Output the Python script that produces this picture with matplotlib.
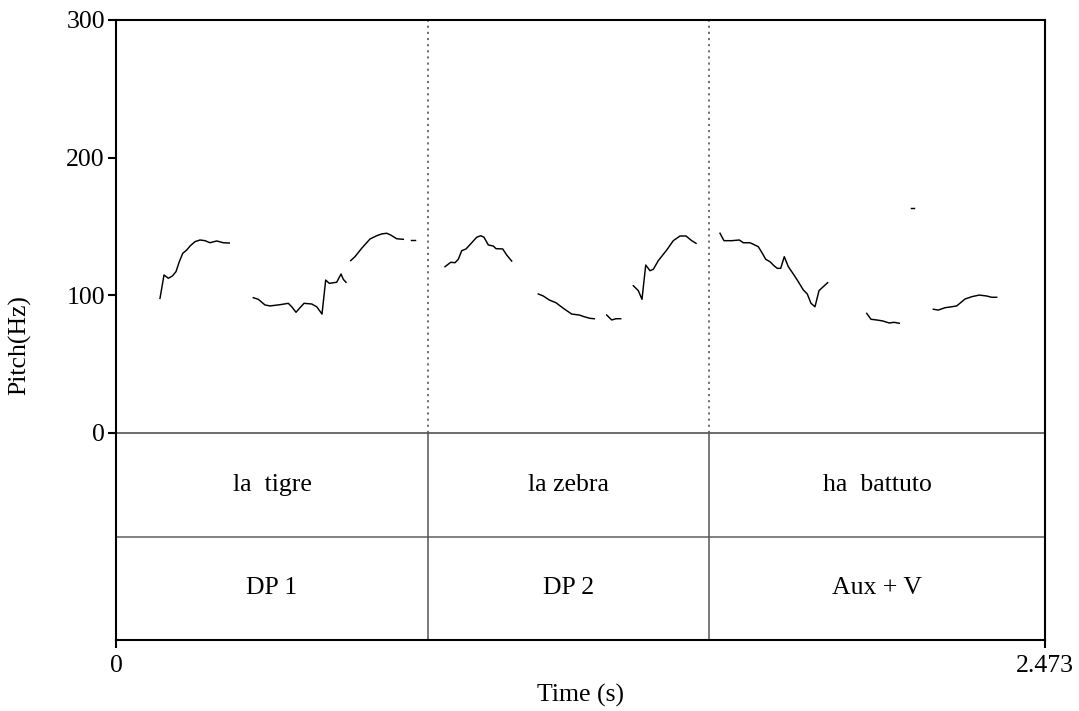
import matplotlib
matplotlib.use("Agg")
import matplotlib.pyplot as plt

plt.rcParams['font.family'] = ['Liberation Serif', 'DejaVu Serif']

# ---- data ----
total_time = 2.473
boundaries = [0.8306, 1.5786]
tier1_labels = ["la  tigre", "la zebra", "ha  battuto"]
tier2_labels = ["DP 1", "DP 2", "Aux + V"]
y_ticks = [0, 100, 200, 300]

seg1_t = [0.1171, 0.1278, 0.1392, 0.1499, 0.1597, 0.1685, 0.1776, 0.1882, 0.1970, 0.2103, 0.2236, 0.2369, 0.2502, 0.2681, 0.2856, 0.3016]
seg1_f = [97.8, 114.8, 112.4, 114.0, 117.2, 124.4, 130.5, 132.9, 135.8, 139.0, 140.2, 139.7, 138.2, 139.5, 138.2, 138.0]

seg2_t = [0.3655, 0.3788, 0.3966, 0.4099, 0.4366, 0.4587, 0.4677, 0.4792, 0.4898, 0.5005, 0.5210, 0.5343, 0.5484, 0.5582, 0.5678, 0.5875, 0.5990, 0.6051, 0.6123]
seg2_f = [98.3, 97.1, 93.0, 92.3, 93.2, 94.2, 91.7, 87.7, 91.0, 94.2, 93.7, 91.7, 86.4, 111.1, 108.7, 109.5, 115.5, 111.6, 109.5]

seg3_t = [0.6248, 0.6362, 0.6541, 0.6761, 0.6940, 0.7073, 0.7206, 0.7313, 0.7472, 0.7648]
seg3_f = [125.2, 128.1, 134.2, 140.9, 143.3, 144.6, 145.1, 143.8, 141.1, 140.7]

seg4_t = [0.7845, 0.7959]
seg4_f = [140.2, 140.2]

segA_t = [0.8758, 0.8910, 0.9024, 0.9112, 0.9203, 0.9317, 0.9469, 0.9602, 0.9708, 0.9796, 0.9911, 1.0044, 1.0116, 1.0294, 1.0400, 1.0533]
segA_f = [120.8, 124.0, 123.7, 126.2, 132.4, 133.7, 138.2, 142.2, 143.3, 142.2, 136.6, 135.8, 133.9, 133.7, 129.3, 124.9]

segB_t = [1.1242, 1.1375, 1.1535, 1.1713, 1.1907, 1.2131, 1.2333, 1.2458, 1.2618, 1.2732]
segB_f = [101.0, 99.5, 96.6, 94.6, 90.6, 86.4, 85.7, 84.5, 83.3, 83.0]

segC_t = [1.3062, 1.3196, 1.3310, 1.3435]
segC_f = [85.7, 82.1, 83.0, 83.0]

segD_t = [1.3771, 1.3904, 1.4002, 1.4101, 1.4215, 1.4303, 1.4436, 1.4660, 1.4835, 1.5014, 1.5173, 1.5325, 1.5440]
segD_f = [107.0, 103.4, 97.1, 122.0, 117.9, 118.9, 125.2, 132.9, 139.7, 143.1, 143.1, 139.7, 137.8]

segE_t = [1.6078, 1.6185, 1.6390, 1.6592, 1.6699, 1.6877, 1.6965, 1.7098, 1.7189, 1.7295, 1.7410, 1.7516, 1.7604, 1.7694, 1.7790, 1.7897, 1.8030, 1.8163, 1.8296, 1.8402, 1.8501, 1.8607, 1.8714, 1.8828, 1.8945]
segE_f = [145.1, 139.7, 139.7, 140.2, 138.2, 138.2, 137.1, 135.3, 131.3, 126.2, 124.4, 121.5, 119.6, 119.6, 128.1, 120.8, 115.5, 109.9, 103.9, 101.0, 94.2, 91.7, 103.4, 106.3, 109.2]

segF_t = [2.1155, 2.1243]
segF_f = [163.2, 163.2]

segG_t = [1.9984, 2.0098, 2.0250, 2.0409, 2.0585, 2.0710, 2.0852]
segG_f = [86.9, 82.6, 82.1, 81.4, 79.9, 80.4, 79.7]

segH_t = [2.1757, 2.1890, 2.2068, 2.2201, 2.2379, 2.2600, 2.2779, 2.2981, 2.3178, 2.3311, 2.3444]
segH_f = [89.9, 89.3, 91.0, 91.5, 92.3, 97.3, 99.0, 100.2, 99.5, 98.6, 98.6]

segments = [(seg1_t, seg1_f), (seg2_t, seg2_f), (seg3_t, seg3_f), (seg4_t, seg4_f),
            (segA_t, segA_f), (segB_t, segB_f), (segC_t, segC_f), (segD_t, segD_f),
            (segE_t, segE_f), (segF_t, segF_f), (segG_t, segG_f), (segH_t, segH_f)]

# ---- layout ----
W, H = 1079, 711
fig = plt.figure(figsize=(W / 100, H / 100), dpi=100)
left, right, top, bottom = 116, 1045, 20, 640
ax = fig.add_axes([left / W, 1 - bottom / H, (right - left) / W, (bottom - top) / H])

fmax = 300.0
px_per_hz = (433 - 20) / fmax
tier_h = 103.5 / px_per_hz
ymin = -2 * tier_h

ax.set_xlim(0, total_time)
ax.set_ylim(ymin, fmax)

for t, f in segments:
    ax.plot(t, f, color='black', lw=1.05, solid_joinstyle='round')

# tier lines
ax.axhline(0, color='#444444', lw=1.1)
ax.axhline(-tier_h, color='#777777', lw=1.3)
for b in boundaries:
    ax.plot([b, b], [0, fmax], color='#666666', lw=1.3, ls=(0, (1.2, 2.2)))
    ax.plot([b, b], [ymin, 0], color='#555555', lw=1.1)

edges = [0] + boundaries + [total_time]
fs = 18.5
for i in range(3):
    xc = (edges[i] + edges[i + 1]) / 2
    ax.text(xc, -tier_h / 2, tier1_labels[i], ha='center', va='center', fontsize=fs)
    ax.text(xc, -1.5 * tier_h, tier2_labels[i], ha='center', va='center', fontsize=fs)

for s in ax.spines.values():
    s.set_linewidth(1.5)
ax.set_yticks(y_ticks)
ax.set_yticklabels([str(v) for v in y_ticks])
ax.set_xticks([0, total_time])
ax.set_xticklabels(["0", "2.473"])
ax.tick_params(axis='both', direction='out', length=6, width=1.5, labelsize=fs, pad=2)
ax.tick_params(axis='x', pad=5)

ax.set_xlabel("Time (s)", fontsize=fs, labelpad=5)
ax.set_ylabel("Pitch(Hz)", fontsize=fs)
ax.yaxis.set_label_coords(-(116 - 31) / (right - left), (640 - 345) / (bottom - top))

fig.savefig("out.png", dpi=100)
